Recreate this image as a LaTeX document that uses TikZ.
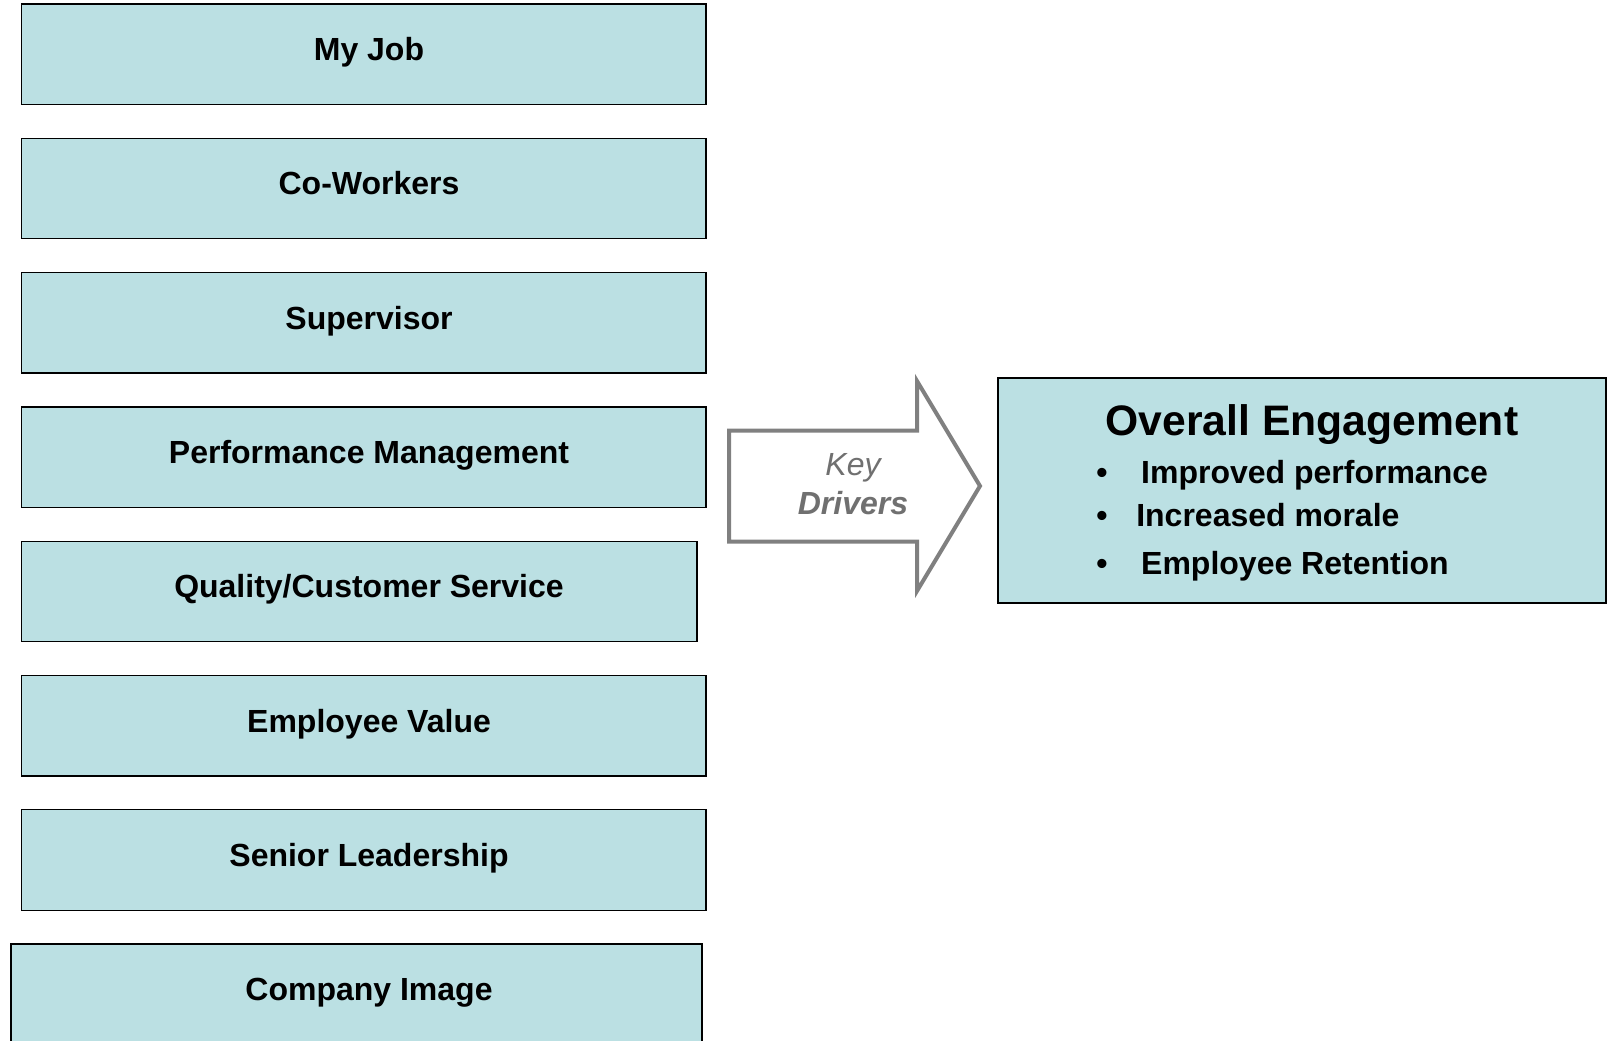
\documentclass[tikz,border=0pt]{standalone}
\usepackage{fontspec}
\setmainfont{Liberation Sans}
\usepackage{tikz}

\definecolor{boxfill}{RGB}{187,224,227}
\definecolor{arrowgray}{RGB}{128,128,128}
\definecolor{drivergray}{RGB}{112,112,112}

\begin{document}
\begin{tikzpicture}[x=0.75pt, y=-0.75pt,
                    factor/.style={fill=boxfill, draw=black, line width=1pt, rectangle, minimum width=513.4pt, minimum height=75.3pt, inner sep=0pt},
                    factortext/.style={anchor=base, inner sep=0pt, font=\fontsize{24}{29}\selectfont\bfseries},
                    outcome/.style={fill=boxfill, draw=black, line width=1pt, rectangle, minimum width=456pt, minimum height=168.75pt, inner sep=0pt},
                    outcomeitem/.style={anchor=base west, inner sep=0pt, font=\fontsize{24}{29}\selectfont\bfseries},
                    bigarrow/.style={draw=arrowgray, fill=white, line width=3pt, line join=miter}]

	\path[use as bounding box, fill=white] (0,0) rectangle (1607,1040);

	% the eight drivers, one box each
	\node[factor] (MyJob) at (363.75,54.2) {};
	\node[factortext] (MyJobTxt) at (369,60.5) {My Job};

	\node[factor] (CoWorkers) at (363.75,188.5) {};
	\node[factortext] (CoWorkersTxt) at (369,194.8) {Co-Workers};

	\node[factor] (Supervisor) at (363.75,322.8) {};
	\node[factortext] (SupervisorTxt) at (369,329.1) {Supervisor};

	\node[factor] (PerfMgmt) at (363.75,457.1) {};
	\node[factortext] (PerfMgmtTxt) at (369,463.4) {Performance Management};

	\node[factor, minimum width=506.6pt] (Quality) at (359.25,591.4) {};
	\node[factortext] (QualityTxt) at (369,597.7) {Quality/Customer Service};

	\node[factor] (EmpValue) at (363.75,725.7) {};
	\node[factortext] (EmpValueTxt) at (369,732.0) {Employee Value};

	\node[factor] (SeniorLead) at (363.75,860.0) {};
	\node[factortext] (SeniorLeadTxt) at (369,866.3) {Senior Leadership};

	\node[factor, minimum width=518.3pt] (CompImage) at (356.5,994.3) {};
	\node[factortext] (CompImageTxt) at (369,1000.6) {Company Image};

	% block arrow
	\draw[bigarrow] (729,430.5) -- (917,430.5) -- (917,381) -- (980,486) -- (917,591) -- (917,541.5) -- (729,541.5) -- cycle;
	\node[align=center, inner sep=0pt, text=drivergray, font=\fontsize{24}{29.3}\selectfont] (KeyDrivers) at (853,484) {\itshape Key\\ \bfseries\itshape Drivers};

	% outcome box
	\node[outcome] (Overall) at (1302,490.5) {};
	\node[anchor=base, inner sep=0pt, font=\fontsize{32}{38}\selectfont\bfseries] (OverallTxt) at (1312,435.5) {Overall Engagement};
	\node[outcomeitem] (ImpPerf) at (1096,483) {\textbullet\hspace{25.3pt}Improved performance};
	\node[outcomeitem] (IncMorale) at (1096,526) {\textbullet\hspace{21.6pt}Increased morale};
	\node[outcomeitem] (EmpRet) at (1096,574) {\textbullet\hspace{25.3pt}Employee Retention};

\end{tikzpicture}
\end{document}
